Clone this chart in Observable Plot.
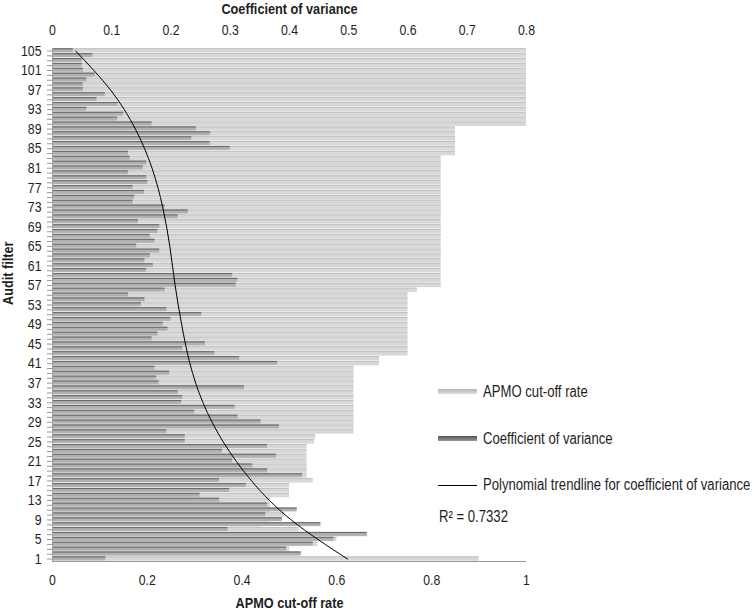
<!DOCTYPE html>
<html><head><meta charset="utf-8">
<script src="https://cdn.jsdelivr.net/npm/d3@7"></script>
<script src="https://cdn.jsdelivr.net/npm/@observablehq/plot@0.6"></script>
<style>
body{margin:0;background:#fff;}
#wrap{position:relative;width:754px;height:612px;font-family:"Liberation Sans",Arial,sans-serif;}
.leg{position:absolute;font-size:16px;color:#1e1e1e;white-space:nowrap;line-height:16px;transform:scaleX(0.82);transform-origin:0 50%;}
.sw{position:absolute;width:39px;height:5px;}
</style></head>
<body><div id="wrap"></div>
<script>
// Audit filters 1..105
const filters = [1,2,3,4,5,6,7,8,9,10,11,12,13,14,15,16,17,18,19,20,21,22,23,24,25,26,27,28,29,30,31,32,33,34,35,36,37,38,39,40,41,42,43,44,45,46,47,48,49,50,51,52,53,54,55,56,57,58,59,60,61,62,63,64,65,66,67,68,69,70,71,72,73,74,75,76,77,78,79,80,81,82,83,84,85,86,87,88,89,90,91,92,93,94,95,96,97,98,99,100,101,102,103,104,105];
// APMO cut-off rate (bottom axis)
const apmo = [0.9,0.52,0.5,0.56,0.6,0.665,0.52,0.44,0.46,0.49,0.46,0.46,0.46,0.5,0.5,0.5,0.55,0.537,0.537,0.537,0.537,0.537,0.537,0.537,0.553,0.555,
  0.636,0.636,0.636,0.636,0.636,0.636,0.636,0.636,0.636,0.636,0.636,0.636,0.636,0.636,0.69,0.69,
  0.75,0.75,0.75,0.75,0.75,0.75,0.75,0.75,0.75,0.75,0.75,0.75,0.75,0.77,
  0.82,0.82,0.82,0.82,0.82,0.82,0.82,0.82,0.82,0.82,0.82,0.82,0.82,0.82,0.82,0.82,0.82,0.82,0.82,0.82,0.82,0.82,0.82,0.82,0.82,0.82,0.82,
  0.85,0.85,0.85,0.85,0.85,0.85,
  1,1,1,1,1,1,1,1,1,1,1,1,1,1,1,1];
// Coefficient of variance (top axis)
const cov = [0.09,0.42,0.395,0.44,0.475,0.531,0.296,0.453,0.388,0.36,0.413,0.363,0.282,0.249,0.299,0.327,0.282,0.422,0.363,0.338,0.304,0.378,0.287,0.363,0.224,0.224,
  0.193,0.383,0.352,0.313,0.24,0.308,0.218,0.22,0.212,0.324,0.18,0.176,0.198,0.173,0.38,0.316,
  0.274,0.22,0.258,0.168,0.178,0.195,0.187,0.2,0.252,0.193,0.15,0.156,0.128,0.19,
  0.31,0.313,0.304,0.159,0.17,0.156,0.165,0.181,0.142,0.173,0.165,0.178,0.181,0.145,0.212,0.229,0.19,0.136,0.139,0.155,0.136,0.161,0.159,0.128,0.153,0.159,0.131,
  0.128,0.3,0.266,0.235,0.267,0.243,
  0.168,0.11,0.12,0.058,0.111,0.075,0.089,0.052,0.052,0.058,0.072,0.052,0.05,0.05,0.068,0.035];
// Polynomial trendline
const trendFilters = [105,97,89,81,73,65,57,49,41,33,25,17,9,1];
const trendCov = [0.039,0.098,0.14,0.168,0.186,0.198,0.207,0.218,0.232,0.254,0.288,0.336,0.403,0.498];
const yLabelTicks = [105,101,97,93,89,85,81,77,73,69,65,61,57,53,49,45,41,37,33,29,25,21,17,13,9,5,1];
const bottomTicks = [0,0.2,0.4,0.6,0.8,1];
const topTicks = [0,0.1,0.2,0.3,0.4,0.5,0.6,0.7,0.8];

const FONT = '"Liberation Sans",Arial,sans-serif';
const TOPMAX = 0.8; // secondary axis max shares the width of primary axis max (1)
const k = 1 / TOPMAX;
const rows = filters.map((f, i) => ({filter: f, apmo: apmo[i], cov: cov[i]}));
const trend = trendFilters.map((f, i) => ({filter: f, cov: trendCov[i]}));
const fmt = d => String(+d.toFixed(2));

const chart = Plot.plot({
  width: 754, height: 612,
  marginLeft: 52, marginRight: 228, marginTop: 48, marginBottom: 51,
  style: {fontFamily: FONT, fontSize: "15px", color: "#1e1e1e", background: "#fff", overflow: "visible"},
  x: {domain: [0, 1]},
  y: {domain: [0.5, 105.5]},
  marks: [
    Plot.rectX(rows, {x1: 0, x2: "apmo", y1: d => d.filter - 0.45, y2: d => d.filter + 0.45, fill: "#d8d8d8"}),
    Plot.rectX(rows, {x1: 0, x2: "apmo", y1: d => d.filter + 0.25, y2: d => d.filter + 0.45, fill: "#c0c0c0"}),
    Plot.rectX(rows, {x1: 0, x2: d => d.cov * k, y1: d => d.filter - 0.35, y2: d => d.filter + 0.45, fill: "#b0b0b0"}),
    Plot.rectX(rows, {x1: 0, x2: d => d.cov * k, y1: d => d.filter + 0.22, y2: d => d.filter + 0.45, fill: "#6c6c6c"}),
    Plot.line(trend, {x: d => d.cov * k, y: "filter", stroke: "#000", strokeWidth: 1, curve: "natural"}),
    Plot.ruleY([0.5], {stroke: "#9a9a9a"}),
    Plot.ruleX([0], {stroke: "#a0a0a0"}),
    Plot.axisY({ticks: filters, tickSize: 5, tickFormat: () => "", stroke: "#999", label: null}),
    Plot.axisY({ticks: yLabelTicks, tickSize: 0, tickPadding: 11, tickFormat: d => String(d), label: null}),
    Plot.axisX({anchor: "bottom", ticks: bottomTicks, tickSize: 0, tickPadding: 13, tickFormat: fmt, label: null}),
    Plot.axisX({anchor: "top", ticks: topTicks.map(v => v * k), tickSize: 0, tickPadding: 14, tickFormat: d => fmt(d * TOPMAX), label: null}),
    Plot.text(["Coefficient of variance"], {frameAnchor: "top", lineAnchor: "middle", dy: -39, fontWeight: "bold", fontSize: 15.5}),
    Plot.text(["APMO cut-off rate"], {frameAnchor: "bottom", lineAnchor: "middle", dy: 42, fontWeight: "bold", fontSize: 15.5}),
    Plot.text(["Audit filter"], {frameAnchor: "left", dx: -44, rotate: -90, fontWeight: "bold", fontSize: 15.5})
  ]
});

// Narrow (Arial Narrow–like) glyphs: compress each text horizontally around its anchor point
chart.querySelectorAll("text").forEach(t => {
  let tr = t.getAttribute("transform") || "";
  const x = t.getAttribute("x");
  if (x != null && /^-?[\d.]+$/.test(x.trim())) {
    tr += ` translate(${x},0)`;
    t.removeAttribute("x");
  }
  t.setAttribute("transform", (tr + " scale(0.82,1)").trim());
});

const wrap = document.getElementById("wrap");
wrap.appendChild(chart);

const legend = [
  {type: "sw", bg: "linear-gradient(#b5b5b5, #dcdcdc)", text: "APMO cut-off rate", y: 392},
  {type: "sw", bg: "linear-gradient(#555, #999)", text: "Coefficient of variance", y: 439},
  {type: "line", text: "Polynomial trendline for coefficient of variance", y: 485}
];
for (const item of legend) {
  const s = document.createElement("div");
  s.className = "sw";
  s.style.left = "438px";
  if (item.type === "sw") { s.style.top = (item.y - 3) + "px"; s.style.background = item.bg; }
  else { s.style.top = item.y + "px"; s.style.height = "1px"; s.style.background = "#000"; }
  wrap.appendChild(s);
  const t = document.createElement("div");
  t.className = "leg";
  t.style.left = "483px";
  t.style.top = (item.y - 8) + "px";
  t.textContent = item.text;
  wrap.appendChild(t);
}
const r2 = document.createElement("div");
r2.className = "leg";
r2.style.left = "439px";
r2.style.top = "509px";
r2.textContent = "R² = 0.7332";
wrap.appendChild(r2);
</script></body></html>
